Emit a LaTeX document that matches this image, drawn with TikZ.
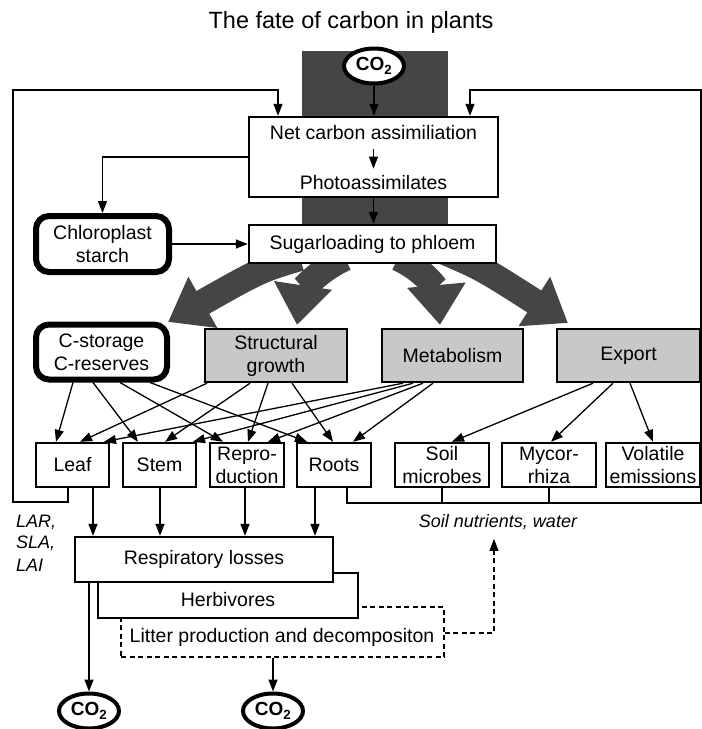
\documentclass[tikz,border=0pt]{standalone}
\usepackage{fontspec}
\setmainfont{Liberation Sans}
\usetikzlibrary{arrows.meta,shapes.geometric,calc}
\definecolor{trunkgray}{HTML}{454545}
\definecolor{boxgray}{HTML}{C8C8C8}
\begin{document}
\begin{tikzpicture}[x=1pt,y=-1pt,
  every node/.style={font=\fontsize{19.5}{23}\selectfont, inner sep=0pt},
  arr/.style={line width=1.3pt, -{Triangle[length=12pt,width=9pt]}},
  ln/.style={line width=1.3pt},
  bx/.style={draw, line width=2.4pt, fill=white, align=center},
  gbx/.style={bx, fill=boxgray},
  rbx/.style={draw, line width=6pt, rounded corners=13pt, fill=white, align=center},
  co/.style={draw, ellipse, line width=4pt, fill=white, minimum width=60pt, minimum height=35pt, font=\fontsize{19}{19}\selectfont\bfseries},
  fan/.style={draw=trunkgray, line width=26pt, -{Triangle[length=40pt,width=56pt]}},
  dbx/.style={draw, line width=1.3pt, dash pattern=on 5pt off 3.5pt, fill=white},
  itx/.style={font=\fontsize{18}{22}\selectfont\itshape}
]
\useasboundingbox (0,0) rectangle (702,729);

\node (title) at (351,22) {\fontsize{23.5}{26}\selectfont The fate of carbon in plants};

% trunk and fan arrows
\fill[trunkgray] (302,51) rectangle (448,262);
\draw[fan] (300,258) .. controls (260,270) .. (168,322);
\draw[fan] (345,258) .. controls (315,272) and (302,292) .. (297,325);
\draw[fan] (398,258) .. controls (428,272) and (437,292) .. (440,325);
\draw[fan] (440,250) .. controls (482,268) .. (568,323);

% top part
\node[co] (co2top) at (374,66) {CO\textsubscript{2}};
\node[bx, minimum width=249pt, minimum height=80pt] (net) at (373.5,157) {};
\node (nettxt) at (373.5,133) {Net carbon assimiliation};
\node (photo) at (373.5,183) {Photoassimilates};
\node[bx, minimum width=247pt, minimum height=38pt] (sugar) at (372.5,244) {Sugarloading to phloem};
\node[rbx, minimum width=133pt, minimum height=56pt] (chloro) at (102.5,244) {Chloroplast\\starch};

% second row
\node[rbx, minimum width=131pt, minimum height=55pt] (cstor) at (101.5,352) {C-storage\\C-reserves};
\node[gbx, minimum width=142pt, minimum height=53pt] (struct) at (276,355.5) {Structural\\growth};
\node[gbx, minimum width=141pt, minimum height=53pt] (metab) at (452.5,355.5) {Metabolism};
\node[gbx, minimum width=143pt, minimum height=53pt] (export) at (628.5,355.5) {Export};

% third row
\node[bx, minimum width=73pt, minimum height=44pt] (leaf) at (72.5,465) {Leaf};
\node[bx, minimum width=73pt, minimum height=44pt] (stem) at (159.5,465) {Stem};
\node[bx, minimum width=74pt, minimum height=44pt] (repro) at (247,465) {Repro-\\duction};
\node[bx, minimum width=74pt, minimum height=44pt] (roots) at (334,465) {Roots};
\node[bx, minimum width=94pt, minimum height=44pt] (soil) at (442,465) {Soil\\microbes};
\node[bx, minimum width=94pt, minimum height=44pt] (myco) at (549,465) {Mycor-\\rhiza};
\node[bx, minimum width=94pt, minimum height=44pt] (volat) at (653,465) {Volatile\\emissions};

% texts
\node[itx, anchor=west] (lar) at (16,522) {LAR,};
\node[itx, anchor=west] (sla) at (16,543.5) {SLA,};
\node[itx, anchor=west] (lai) at (16,565) {LAI};
\node[itx] (soiltxt) at (498,522) {Soil nutrients, water};

% bottom boxes
\node[dbx, minimum width=323pt, minimum height=50pt] (litter) at (282.5,632) {};
\node (littxt) at (282,637) {Litter production and decompositon};
\node[bx, minimum width=260pt, minimum height=45pt] (herb) at (228,595.5) {};
\node (herbtxt) at (228,600) {Herbivores};
\node[bx, minimum width=258pt, minimum height=45pt] (resp) at (204,559.5) {Respiratory losses};
\node[co] (co2a) at (89,711) {CO\textsubscript{2}};
\node[co] (co2b) at (273,711) {CO\textsubscript{2}};

% feedback loops
\draw[arr] (68,0 |- leaf.south) -- (68,502) -- (13,502) -- (13,90) -- (278,90) -- (278,0 |- net.north);
\draw[arr] (347,0 |- roots.south) -- (347,503) -- (701,503) -- (701,90) -- (470,90) -- (470,0 |- net.north);
\draw[ln] (soil.south) -- (soil.south |- 0,503);
\draw[ln] (myco.south) -- (myco.south |- 0,503);

% top connectors
\draw[arr] (co2top.south) -- (co2top.south |- net.north);
\draw[arr, shorten <=9pt, shorten >=7pt] (nettxt.south) -- (photo.north);
\draw[arr] (net.south) -- (net.south |- sugar.north);
\draw[arr] (net.west) -| (chloro.north);
\draw[arr] (chloro.east) -- (sugar.west);

% second row to third row
\draw[arr] (73,0 |- cstor.south) -- (56,0 |- leaf.north);
\draw[arr] (93,0 |- cstor.south) -- (138,0 |- stem.north);
\draw[arr] (120,0 |- cstor.south) -- (223,0 |- repro.north);
\draw[arr] (150,0 |- cstor.south) -- (307,0 |- roots.north);
\draw[arr] (207,0 |- struct.south) -- (80,0 |- leaf.north);
\draw[arr] (250,0 |- struct.south) -- (165,0 |- stem.north);
\draw[arr] (268,0 |- struct.south) -- (248,0 |- repro.north);
\draw[arr] (292,0 |- struct.south) -- (333,0 |- roots.north);
\draw[arr] (403,0 |- metab.south) -- (104,0 |- leaf.north);
\draw[arr] (413,0 |- metab.south) -- (193,0 |- stem.north);
\draw[arr] (423,0 |- metab.south) -- (268,0 |- repro.north);
\draw[arr] (433,0 |- metab.south) -- (353,0 |- roots.north);
\draw[arr] (593,0 |- export.south) -- (452,0 |- soil.north);
\draw[arr] (613,0 |- export.south) -- (551,0 |- myco.north);
\draw[arr] (630,0 |- export.south) -- (653,0 |- volat.north);

% third row to respiration
\draw[arr] (93,0 |- leaf.south) -- (93,0 |- resp.north);
\draw[arr] (160,0 |- stem.south) -- (160,0 |- resp.north);
\draw[arr] (245,0 |- repro.south) -- (245,0 |- resp.north);
\draw[arr] (315,0 |- roots.south) -- (315,0 |- resp.north);

% bottom
\draw[arr] (89,0 |- resp.south) -- (co2a.north);
\draw[arr] (273,0 |- litter.south) -- (co2b.north);
\draw[arr, dash pattern=on 5pt off 3.5pt, shorten >=9pt] (litter.east |- 0,633) -- (494,633) -- (494,0 |- soiltxt.south);
\end{tikzpicture}
\end{document}
